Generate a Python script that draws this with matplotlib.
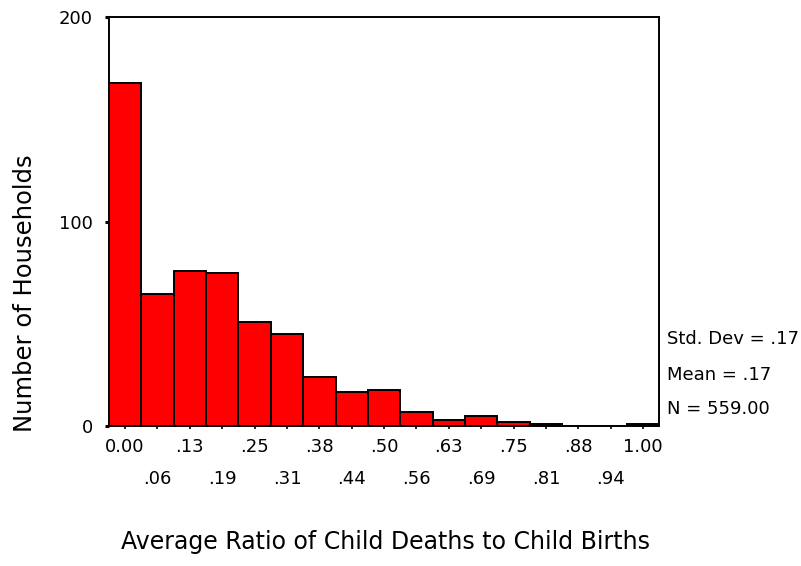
import numpy as np
import matplotlib
matplotlib.use("Agg")
import matplotlib.pyplot as plt

# histogram of household child death ratio, bins of width 1/16
bin_centers = np.arange(17) / 16.0
counts = [168, 65, 76, 75, 51, 45, 24, 17, 18, 7, 3, 5, 2, 1, 0, 0, 1]
tick_labels = ["0.00", ".06", ".13", ".19", ".25", ".31", ".38", ".44", ".50",
               ".56", ".63", ".69", ".75", ".81", ".88", ".94", "1.00"]
y_ticks = [0, 100, 200]
stats_lines = ["Std. Dev = .17", "Mean = .17", "N = 559.00"]

bin_width = 1 / 16.0

plt.rcParams['font.family'] = ['DejaVu Sans']

fig = plt.figure(figsize=(8.01, 5.66), dpi=100)
ax = fig.add_axes([0.136, 0.2465, 0.687, 0.7229])

ax.bar(bin_centers, counts, width=bin_width, color="#ff0000",
       edgecolor="black", linewidth=1.4, zorder=2)

ax.set_xlim(bin_centers[0] - bin_width / 2, bin_centers[-1] + bin_width / 2)
ax.set_ylim(0, 200)

for s in ax.spines.values():
    s.set_linewidth(1.4)
    s.set_color("black")

# y axis
ax.set_yticks(y_ticks)
ax.set_yticklabels([str(v) for v in y_ticks], fontsize=13)
ax.tick_params(axis="y", direction="out", length=3, width=2.2, pad=8.5)

# x axis: two rows of labels (even bins on top row, odd bins lower)
ax.set_xticks(bin_centers[::2])
ax.set_xticklabels(tick_labels[::2], fontsize=13)
ax.set_xticks(bin_centers[1::2], minor=True)
ax.set_xticklabels(tick_labels[1::2], minor=True, fontsize=13)
ax.tick_params(axis="x", which="major", direction="out", length=2, width=1.2, pad=6.1)
ax.tick_params(axis="x", which="minor", direction="out", length=2, width=1.2, pad=29.2)

# axis titles
fig.text(0.481, 0.030, "Average Ratio of Child Deaths to Child Births",
         fontsize=17, ha="center", va="baseline")
fig.text(0.0307, 0.482, "Number of Households", fontsize=17.5,
         rotation=90, ha="center", va="center")

# summary statistics at right of the plot
for txt, yy in zip(stats_lines, [0.3931, 0.3295, 0.2677]):
    fig.text(0.8327, yy, txt, fontsize=13, ha="left", va="baseline")

fig.savefig("out.png", dpi=100)
